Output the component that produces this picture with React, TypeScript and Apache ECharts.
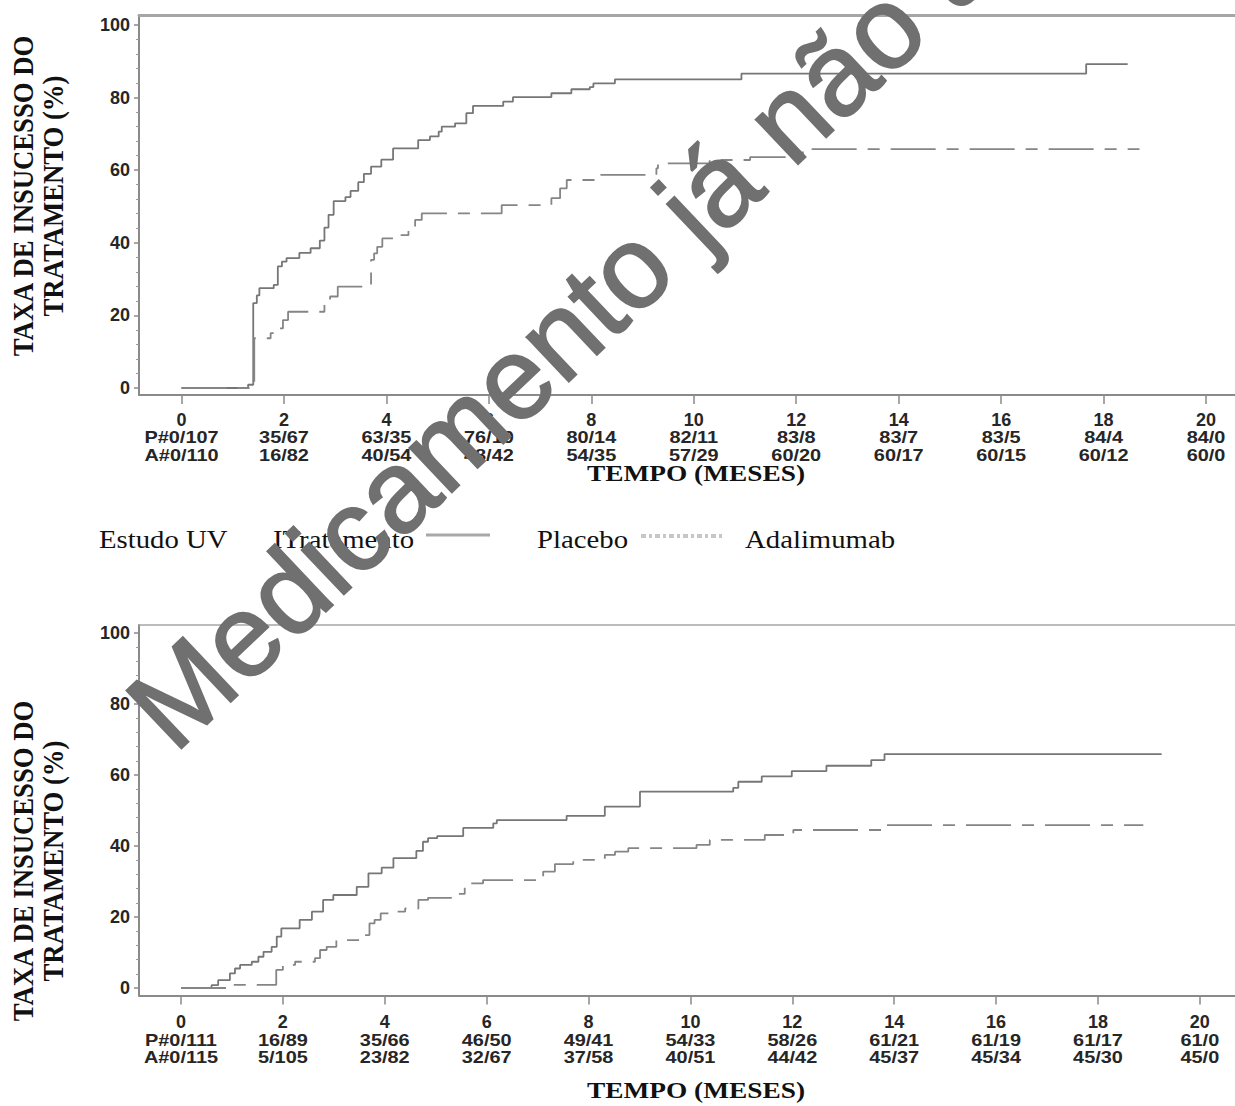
import React, { useEffect, useRef } from "react";
import * as echarts from "echarts";

// ---- data ----
const xTicks = [0, 2, 4, 6, 8, 10, 12, 14, 16, 18, 20];
const yTicks = [0, 20, 40, 60, 80, 100];
const yMinorTicks = [4, 8, 12, 16, 24, 28, 32, 36, 44, 48, 52, 56, 64, 68, 72, 76, 84, 88, 92, 96];

const uv1RiskP = ["P#0/107", "35/67", "63/35", "76/19", "80/14", "82/11", "83/8", "83/7", "83/5", "84/4", "84/0"];
const uv1RiskA = ["A#0/110", "16/82", "40/54", "48/42", "54/35", "57/29", "60/20", "60/17", "60/15", "60/12", "60/0"];
const uv2RiskP = ["P#0/111", "16/89", "35/66", "46/50", "49/41", "54/33", "58/26", "61/21", "61/19", "61/17", "61/0"];
const uv2RiskA = ["A#0/115", "5/105", "23/82", "32/67", "37/58", "40/51", "44/42", "45/37", "45/34", "45/30", "45/0"];

const uv1Placebo: [number, number][] = [
  [0, 0], [1.3, 0.9], [1.4, 23.4], [1.47, 25.5], [1.52, 27.5], [1.8, 28.4], [1.88, 33.5], [1.96, 34.8],
  [2.05, 35.8], [2.3, 37.2], [2.52, 38.5], [2.7, 40.6], [2.79, 44.2], [2.87, 47.7], [2.97, 51.5],
  [3.2, 52.6], [3.3, 54.3], [3.45, 56.7], [3.56, 59], [3.7, 61], [3.9, 62.9], [4.13, 66], [4.62, 68.3],
  [4.85, 69.3], [5.02, 70.6], [5.08, 72], [5.34, 72.9], [5.56, 75.7], [5.69, 77.7], [6.28, 78.9],
  [6.47, 80.1], [7.22, 81.2], [7.61, 82.3], [7.97, 82.9], [8.04, 83.9], [8.46, 85.0], [10.93, 86.6],
  [17.66, 89.2], [18.47, 89.2],
];
const uv1Adalimumab: [number, number][] = [
  [0, 0], [1.42, 13.7], [1.74, 15.1], [1.88, 16.4], [1.98, 18.7], [2.08, 21], [2.79, 23.3], [2.9, 25.2],
  [3.05, 27.9], [3.7, 35.3], [3.76, 37.1], [3.82, 38.9], [3.92, 41.2], [4.13, 42.1], [4.43, 43.5],
  [4.56, 46.3], [4.69, 48.1], [6.25, 50.4], [7.22, 52.3], [7.39, 55], [7.52, 57.3], [8.1, 58.7],
  [9.27, 60.5], [9.3, 61.9], [10.31, 62.8], [11.1, 63.6], [12.0, 64.6], [12.13, 65.8], [18.7, 65.8],
];
const uv2Placebo: [number, number][] = [
  [0, 0], [0.6, 0.8], [0.73, 2.2], [0.96, 4.1], [1.06, 5.5], [1.16, 6.5], [1.39, 7.4], [1.52, 8.8],
  [1.62, 10.2], [1.78, 11.6], [1.88, 14.5], [1.97, 16.8], [2.33, 19.2], [2.57, 21.5], [2.79, 24.8],
  [2.99, 26.2], [3.45, 28.5], [3.68, 32.3], [3.94, 33.9], [4.17, 36.6], [4.62, 38.6], [4.75, 41.2],
  [4.85, 42.2], [5.03, 42.8], [5.54, 45.1], [6.13, 46.4], [6.2, 47.3], [7.57, 48.5], [8.32, 51.1],
  [9.01, 55.3], [10.84, 56.4], [10.94, 58.1], [11.4, 59.6], [11.99, 61.1], [12.67, 62.6], [13.55, 64.2],
  [13.81, 65.9], [19.25, 65.9],
];
const uv2Adalimumab: [number, number][] = [
  [0, 0], [0.99, 0.9], [1.87, 5.1], [2.0, 6.5], [2.24, 7.4], [2.63, 8.4], [2.73, 10.7], [2.86, 11.6],
  [3.05, 13.5], [3.5, 14.9], [3.7, 18.2], [3.8, 19.2], [3.92, 21], [4.2, 21.5], [4.4, 22.4], [4.66, 24.8],
  [4.85, 25.4], [5.45, 26.5], [5.57, 29.5], [5.93, 30.4], [7.11, 32.8], [7.34, 34.9], [7.7, 36.1],
  [8.32, 37.5], [8.52, 38.4], [8.78, 39.4], [10.12, 40.3], [10.38, 41.7], [11.46, 43.1], [12.02, 44.5],
  [13.85, 45.9], [18.89, 45.9],
];

const yTitle = "TAXA DE INSUCESSO DO\nTRATAMENTO (%)";
const xTitle = "TEMPO (MESES)";
const watermark = "Medicamento já não autorizado";

const SANS = '"Liberation Sans", Arial, sans-serif';
const SERIF = '"Liberation Serif", "Times New Roman", serif';
const AXIS_GRAY = "#8a8a8a";

function xAxesFor(gridIndex: number, min: number, max: number, margin: number, topWidth: number) {
  return [
    {
      type: "value", gridIndex, min, max, position: "bottom",
      axisLine: { show: true, onZero: false, lineStyle: { color: AXIS_GRAY, width: 2 } },
      axisTick: { show: true, customValues: xTicks, length: 9, lineStyle: { color: AXIS_GRAY, width: 1.5 } },
      axisLabel: {
        show: true, customValues: xTicks, margin, fontSize: 18, fontWeight: "bold",
        fontFamily: SANS, color: "#262626",
      },
      splitLine: { show: false },
    },
    {
      type: "value", gridIndex, min, max, position: "top",
      axisLine: { show: true, onZero: false, lineStyle: { color: "#a6a6a6", width: topWidth } },
      axisTick: { show: false }, axisLabel: { show: false }, splitLine: { show: false },
    },
  ];
}

function yAxesFor(gridIndex: number, min: number, max: number) {
  return [
    {
      type: "value", gridIndex, min, max, position: "left",
      axisLine: { show: true, onZero: false, lineStyle: { color: AXIS_GRAY, width: 2 } },
      axisTick: { show: true, customValues: yTicks, length: 5, lineStyle: { color: AXIS_GRAY, width: 1.5 } },
      axisLabel: {
        show: true, customValues: yTicks, margin: 9, fontSize: 18, fontWeight: "bold",
        fontFamily: SANS, color: "#262626",
      },
      splitLine: { show: false },
    },
    {
      type: "value", gridIndex, min, max, position: "left",
      axisLine: { show: false, onZero: false },
      axisTick: { show: true, customValues: yMinorTicks, length: 3, lineStyle: { color: "#9a9a9a", width: 1 } },
      axisLabel: { show: false }, splitLine: { show: false },
    },
  ];
}

function stepSeries(data: [number, number][], xAxisIndex: number, yAxisIndex: number, dashed: boolean) {
  return {
    type: "line", xAxisIndex, yAxisIndex, data, step: "end", symbol: "none", silent: true,
    lineStyle: dashed
      ? { color: "#858585", width: 1.8, type: [45, 11, 12, 11] }
      : { color: "#767676", width: 1.8, type: "solid" },
  };
}

function serifText(text: string, x: number, y: number, size: number, bold: boolean, align: string, sx: number) {
  return {
    type: "text", x, y, scaleX: sx, silent: true,
    style: {
      text, fontSize: size, fontFamily: SERIF, fontWeight: bold ? "bold" : "normal",
      textAlign: align, textVerticalAlign: "middle", fill: "#111",
    },
  };
}

function riskText(text: string, x: number, y: number) {
  return {
    type: "text", x, y, scaleX: 1.17, silent: true,
    style: {
      text, fontSize: 17, fontFamily: SANS, fontWeight: "bold",
      textAlign: "center", textVerticalAlign: "middle", fill: "#262626",
    },
  };
}

export default function App() {
  const ref = useRef<HTMLDivElement>(null);
  useEffect(() => {
    if (!ref.current) return;
    const chart = echarts.init(ref.current, undefined, { renderer: "svg" });
    const baseGraphic: any[] = [
      {
        type: "text", x: 38, y: 196, rotation: Math.PI / 2, scaleX: 0.89, silent: true,
        style: {
          text: yTitle, fontSize: 30, fontFamily: SERIF, fontWeight: "bold", lineHeight: 30,
          textAlign: "center", textVerticalAlign: "middle", fill: "#111",
        },
      },
      {
        type: "text", x: 38, y: 861, rotation: Math.PI / 2, scaleX: 0.89, silent: true,
        style: {
          text: yTitle, fontSize: 30, fontFamily: SERIF, fontWeight: "bold", lineHeight: 30,
          textAlign: "center", textVerticalAlign: "middle", fill: "#111",
        },
      },
      serifText(xTitle, 696, 473, 24, true, "center", 1.14),
      serifText(xTitle, 696, 1090, 24, true, "center", 1.14),
      serifText("Estudo UV", 99, 540, 25, false, "left", 1.15),
      serifText("ITratamento", 273, 540, 25, false, "left", 1.15),
      {
        type: "line", silent: true, shape: { x1: 426, y1: 535, x2: 490, y2: 535 },
        style: { stroke: "#a8a8a8", lineWidth: 3 },
      },
      serifText("Placebo", 537, 540, 25, false, "left", 1.15),
      {
        type: "line", silent: true, shape: { x1: 641, y1: 536, x2: 722, y2: 536 },
        style: { stroke: "#c6c6c6", lineWidth: 4, lineDash: [5, 3, 3, 3] },
      },
      serifText("Adalimumab", 745, 540, 25, false, "left", 1.15),
      {
        type: "text", x: 147, y: 726, rotation: 0.759, z: 100, silent: true,
        style: {
          text: watermark, fontSize: 116, fontFamily: SANS, fontWeight: "normal",
          textAlign: "left", textVerticalAlign: "middle", fill: "#707070",
          stroke: "#707070", lineWidth: 2,
        },
      },
    ];
    const option: any = {
      animation: false,
      backgroundColor: "#fff",
      grid: [
        { left: 139, right: 0, top: 15, height: 380, outerBoundsMode: "none", containLabel: false },
        { left: 139, right: 0, top: 625, height: 370.5, outerBoundsMode: "none", containLabel: false },
      ],
      xAxis: [
        ...xAxesFor(0, -0.83, 20.565, 16, 3),
        ...xAxesFor(1, -0.824, 20.69, 17, 1.5),
      ],
      yAxis: [...yAxesFor(0, -1.93, 102.75), ...yAxesFor(1, -2.11, 102.25)],
      series: [
        stepSeries(uv1Placebo, 0, 0, false),
        stepSeries(uv1Adalimumab, 0, 0, true),
        stepSeries(uv2Placebo, 2, 2, false),
        stepSeries(uv2Adalimumab, 2, 2, true),
      ],
      graphic: baseGraphic,
    };
    chart.setOption(option);

    // at-risk table rows placed under each tick through the axes' own scales
    const rows: any[] = [];
    const tables = [
      { xAxisIndex: 0, yP: 437.5, yA: 455, P: uv1RiskP, A: uv1RiskA },
      { xAxisIndex: 2, yP: 1040, yA: 1057.5, P: uv2RiskP, A: uv2RiskA },
    ];
    tables.forEach((tb) => {
      xTicks.forEach((t, i) => {
        const px = chart.convertToPixel({ xAxisIndex: tb.xAxisIndex } as any, t) as number;
        rows.push(riskText(tb.P[i], px, tb.yP));
        rows.push(riskText(tb.A[i], px, tb.yA));
      });
    });
    chart.setOption({ graphic: [...baseGraphic, ...rows] });
    return () => chart.dispose();
  }, []);
  return (
    <div
      ref={ref}
      style={{ position: "absolute", left: 0, top: 0, width: 1235, height: 1106, background: "#fff" }}
    />
  );
}
